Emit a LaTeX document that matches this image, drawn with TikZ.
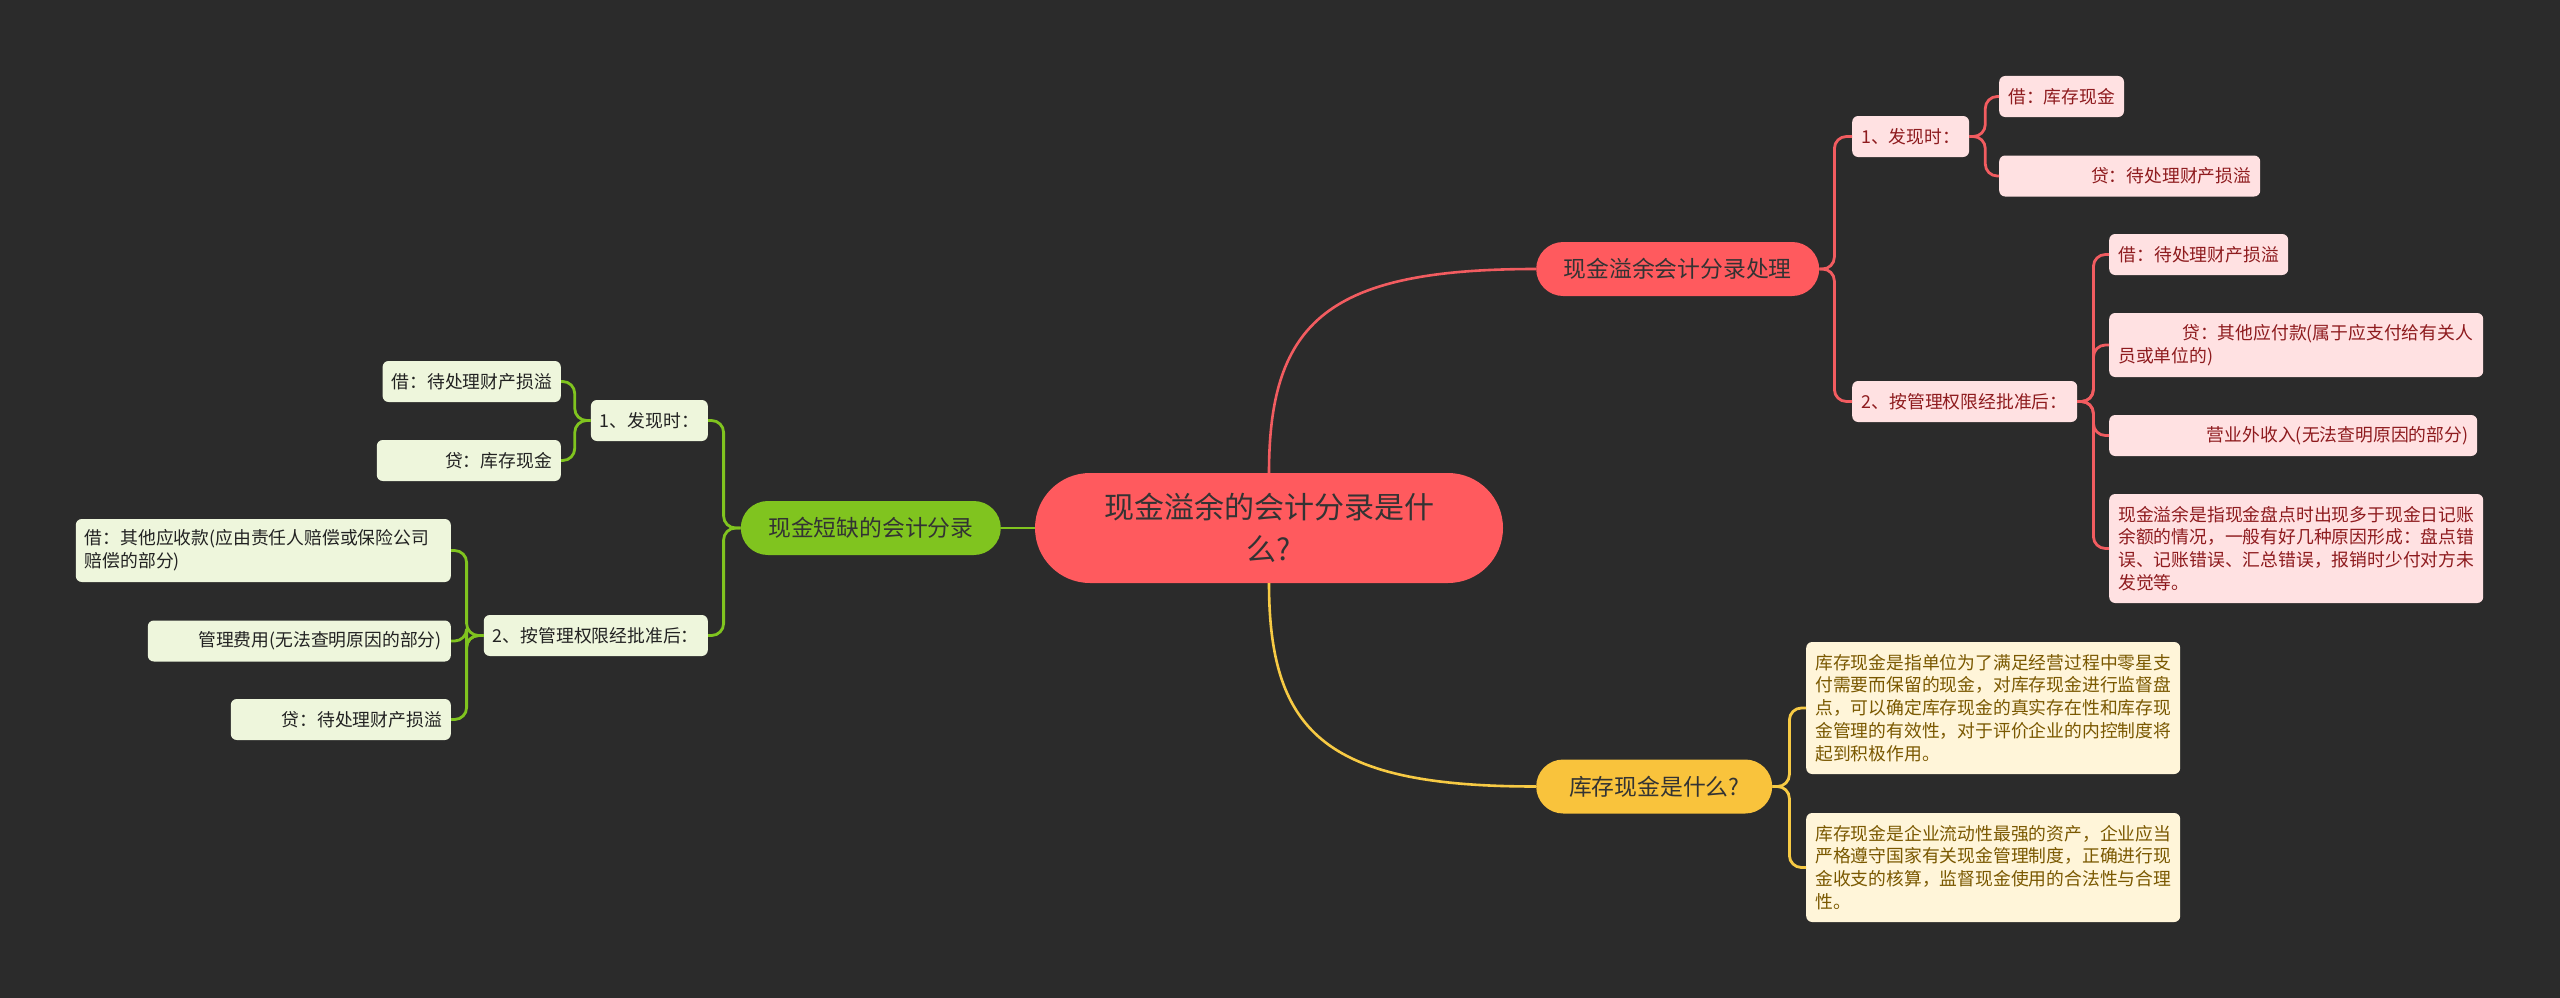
\documentclass[tikz,border=0pt]{standalone}
\usepackage{fontspec}
\newfontfamily\cjk{Noto Sans CJK SC}
\definecolor{bg}{HTML}{2B2B2B}
\definecolor{redmain}{HTML}{FF5A5E}
\definecolor{redline}{HTML}{F25C60}
\definecolor{pinkfill}{HTML}{FFE1E2}
\definecolor{redtext}{HTML}{8E1B1E}
\definecolor{greenmain}{HTML}{80C41F}
\definecolor{greenline}{HTML}{80C41F}
\definecolor{greenfill}{HTML}{EEF6DC}
\definecolor{greentext}{HTML}{222222}
\definecolor{yellowmain}{HTML}{F9C33C}
\definecolor{yellowline}{HTML}{F7CA44}
\definecolor{creamfill}{HTML}{FFF5D9}
\definecolor{creamtext}{HTML}{7A5800}
\definecolor{maintext}{HTML}{333333}
\begin{document}
\begin{tikzpicture}[x=1pt,y=-1pt,
  mainnode/.style={rounded corners=27pt, minimum height=54pt, inner sep=0pt, text=maintext,
    font=\cjk\fontsize{22.8}{27}\selectfont},
  leafnode/.style={rounded corners=6pt, minimum height=41pt, inner xsep=9pt, inner ysep=0pt,
    font=\cjk\fontsize{17.8}{22.8}\selectfont},
  redleaf/.style={leafnode, fill=pinkfill, text=redtext},
  greenleaf/.style={leafnode, fill=greenfill, text=greentext},
  creamleaf/.style={leafnode, fill=creamfill, text=creamtext},
  rconn/.style={draw=redline, line width=2.8pt, rounded corners=12pt},
  gconn/.style={draw=greenline, line width=2.8pt, rounded corners=12pt},
  yconn/.style={draw=yellowline, line width=2.8pt, rounded corners=12pt},
  rcurve/.style={draw=redline, line width=2.6pt},
  gcurve/.style={draw=greenline, line width=2.6pt},
  ycurve/.style={draw=yellowline, line width=2.6pt}
]
\useasboundingbox[fill=bg] (0,0) rectangle (2560,998);

% central
\node[fill=redmain, rounded corners=55pt, minimum width=468pt, minimum height=110pt, inner sep=0pt,
  align=center, text=maintext, font=\cjk\fontsize{30}{42}\selectfont] (C) at (1269,528)
  {现金溢余的会计分录是什\\么?};

% main branches
\node[mainnode, fill=redmain, minimum width=283pt, anchor=west] (R) at (1536,269) {现金溢余会计分录处理};
\node[mainnode, fill=yellowmain, minimum width=236pt, anchor=west] (Y) at (1536,786.5) {库存现金是什么?};
\node[mainnode, fill=greenmain, minimum width=260pt, anchor=east] (G) at (1001,528) {现金短缺的会计分录};

% right red sub-branches
\node[redleaf, minimum width=114pt, anchor=west] (R1) at (1852,136.5) {1、发现时：};
\node[redleaf, minimum width=124pt, anchor=west] (R11) at (1999,96.5) {借：库存现金};
\node[redleaf, text width=243pt, align=right, anchor=west] (R12) at (1999,176) {贷：待处理财产损溢};
\node[redleaf, minimum width=225pt, anchor=west] (R2) at (1852,401.5) {2、按管理权限经批准后：};
\node[redleaf, minimum width=179pt, anchor=west] (R21) at (2109,254.5) {借：待处理财产损溢};
\node[redleaf, text width=356pt, align=left, minimum height=64pt, anchor=west] (R22) at (2109,345)
  {\hspace*{64pt}贷：其他应付款(属于应支付给有关人\\员或单位的)};
\node[redleaf, text width=350pt, align=right, anchor=west] (R23) at (2109,435.5) {营业外收入(无法查明原因的部分)};
\node[redleaf, text width=356pt, align=left, minimum height=109pt, anchor=west] (R24) at (2109,548.5)
  {现金溢余是指现金盘点时出现多于现金日记账\\余额的情况，一般有好几种原因形成：盘点错\\误、记账错误、汇总错误，报销时少付对方未\\发觉等。};

% yellow
\node[creamleaf, text width=356pt, align=left, minimum height=132pt, anchor=west] (Y1) at (1806,708)
  {库存现金是指单位为了满足经营过程中零星支\\付需要而保留的现金，对库存现金进行监督盘\\点，可以确定库存现金的真实存在性和库存现\\金管理的有效性，对于评价企业的内控制度将\\起到积极作用。};
\node[creamleaf, text width=356pt, align=left, minimum height=109pt, anchor=west] (Y2) at (1806,867.5)
  {库存现金是企业流动性最强的资产，企业应当\\严格遵守国家有关现金管理制度，正确进行现\\金收支的核算，监督现金使用的合法性与合理\\性。};

% green
\node[greenleaf, minimum width=114pt, anchor=east] (G1) at (708,420.5) {1、发现时：};
\node[greenleaf, minimum width=178pt, anchor=east] (G11) at (561,381.5) {借：待处理财产损溢};
\node[greenleaf, text width=166pt, align=right, anchor=east] (G12) at (561,460.5) {贷：库存现金};
\node[greenleaf, minimum width=224pt, anchor=east] (G2) at (708,635.5) {2、按管理权限经批准后：};
\node[greenleaf, text width=357pt, align=left, minimum height=63pt, anchor=east] (G21) at (451,550.5)
  {借：其他应收款(应由责任人赔偿或保险公司\\赔偿的部分)};
\node[greenleaf, text width=285pt, align=right, anchor=east] (G22) at (451,641) {管理费用(无法查明原因的部分)};
\node[greenleaf, text width=202pt, align=right, anchor=east] (G23) at (451,719.5) {贷：待处理财产损溢};

% main connectors
\draw[rcurve] (C.north) .. controls +(0,-153) and +(-206,0) .. (R.west);
\draw[ycurve] (C.south) .. controls +(0,153) and +(-206,0) .. (Y.west);
\draw[gcurve] (C.west) -- (G.east);

% red sub connectors
\draw[rconn] (R.east) -- ++(15,0) |- (R1.west);
\draw[rconn] (R.east) -- ++(15,0) |- (R2.west);
\draw[rconn] (R1.east) -- ++(16,0) |- (R11.west);
\draw[rconn] (R1.east) -- ++(16,0) |- (R12.west);
\draw[rconn] (R2.east) -- ++(16,0) |- (R21.west);
\draw[rconn] (R2.east) -- ++(16,0) |- (R22.west);
\draw[rconn] (R2.east) -- ++(16,0) |- (R23.west);
\draw[rconn] (R2.east) -- ++(16,0) |- (R24.west);

% yellow sub connectors
\draw[yconn] (Y.east) -- ++(17,0) |- (Y1.west);
\draw[yconn] (Y.east) -- ++(17,0) |- (Y2.west);

% green sub connectors
\draw[gconn] (G.west) -- ++(-17,0) |- (G1.east);
\draw[gconn] (G.west) -- ++(-17,0) |- (G2.east);
\draw[gconn] (G1.west) -- ++(-16,0) |- (G11.east);
\draw[gconn] (G1.west) -- ++(-16,0) |- (G12.east);
\draw[gconn] (G2.west) -- ++(-17,0) |- (G21.east);
\draw[gconn] (G2.west) -- ++(-17,0) |- (G22.east);
\draw[gconn] (G2.west) -- ++(-17,0) |- (G23.east);
\end{tikzpicture}
\end{document}
